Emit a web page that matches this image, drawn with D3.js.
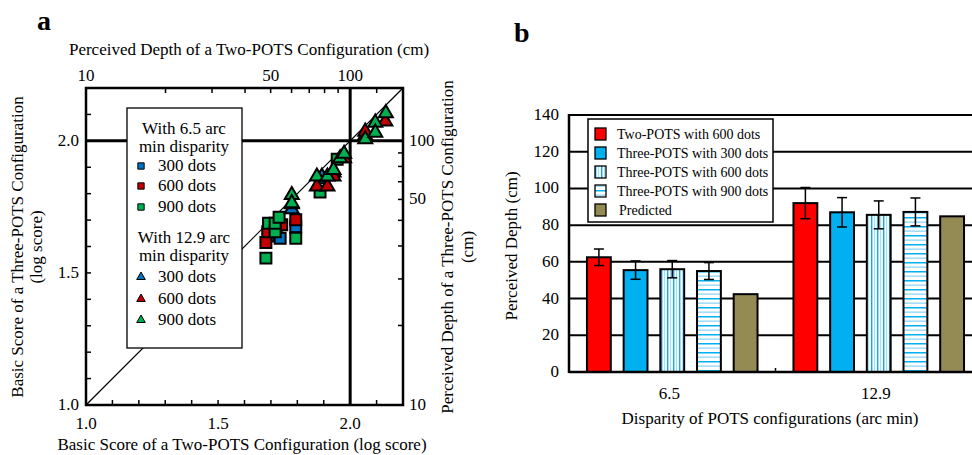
<!DOCTYPE html>
<html>
<head>
<meta charset="utf-8">
<script src="https://cdn.jsdelivr.net/npm/d3@7"></script>
<style>
  body { margin: 0; background: #fff; }
</style>
</head>
<body>
<div id="chart"></div>
<script>
// ---- panel a data (log scores) ----
const sq300 = [[1.69, 1.64], [1.72, 1.66], [1.735, 1.631], [1.794, 1.675], [1.89, 1.86]];
const sq600 = [[1.681, 1.615], [1.688, 1.656], [1.741, 1.682], [1.794, 1.701]];
const sq900 = [[1.681, 1.556], [1.691, 1.688], [1.716, 1.656], [1.716, 1.688], [1.731, 1.711], [1.794, 1.631], [1.886, 1.806], [1.951, 1.93]];
const tri300 = [[1.779, 1.741], [1.893, 1.865], [1.937, 1.88], [2.057, 2.02]];
const tri600 = [[1.779, 1.76], [1.874, 1.827], [1.914, 1.827], [1.937, 1.865], [1.977, 1.934], [2.057, 2.035], [2.133, 2.073]];
const tri900 = [[1.779, 1.795], [1.779, 1.764], [1.874, 1.865], [1.914, 1.865], [1.937, 1.89], [1.962, 1.934], [1.977, 1.951], [2.057, 2.006], [2.095, 2.069], [2.095, 2.031], [2.135, 2.105]];

const scoreTicks = [1.1, 1.2, 1.3, 1.4, 1.6, 1.7, 1.8, 1.9, 2.1];
const scoreLabels = [1.0, 1.5, 2.0];
const topDepthTicks = [20, 30, 40, 50, 60, 70, 80, 90, 126];
const topDepthLabels = [10, 50, 100];
const rightDepthTicks = [20, 30, 40, 50, 60, 70, 80, 90];
// the original prints "50" beside the 60 tick on the right axis
const rightLabelAt = [10, 60, 100];
const rightLabelText = ["10", "50", "100"];

// ---- panel b data ----
const disparities = ["6.5", "12.9"];
const seriesNames = ["Two-POTS with 600 dots", "Three-POTS with 300 dots", "Three-POTS with 600 dots", "Three-POTS with 900 dots", "Predicted"];
const depth65 = [62.5, 55.5, 56, 55, 42.4];
const err65 = [4.5, 5, 4.7, 4.6, null];
const depth129 = [92, 87, 85.6, 87.2, 84.8];
const err129 = [8.5, 8, 7.6, 7.6, null];
const depthTicksB = [0, 20, 40, 60, 80, 100, 120, 140];

const cBlue = "#0070c0", cRed = "#c00000", cGreen = "#00b050";
const serif = "Liberation Serif, Times New Roman, DejaVu Serif, serif";
const fs = "17px";

const svg = d3.select("#chart").append("svg")
    .attr("width", 972)
    .attr("height", 455)
    .attr("font-family", serif);

const defs = svg.append("defs");
const vp = defs.append("pattern").attr("id", "vstripe")
    .attr("patternUnits", "userSpaceOnUse").attr("width", 6).attr("height", 6);
vp.append("rect").attr("width", 6).attr("height", 6).attr("fill", "#fff");
vp.append("rect").attr("x", 1).attr("width", 1.4).attr("height", 6).attr("fill", "#00b0f0");
vp.append("rect").attr("x", 4).attr("width", 1).attr("height", 6).attr("fill", "#a6dff7");
const hp = defs.append("pattern").attr("id", "hstripe")
    .attr("patternUnits", "userSpaceOnUse").attr("width", 6).attr("height", 9);
hp.append("rect").attr("width", 6).attr("height", 9).attr("fill", "#fff");
hp.append("rect").attr("y", 1).attr("width", 6).attr("height", 1.5).attr("fill", "#00b0f0");
hp.append("rect").attr("y", 5.5).attr("width", 6).attr("height", 1.3).attr("fill", "#8fd6f5");

// =================== panel a ===================
const ax = {left: 86, right: 403, top: 88, bottom: 405};
const x = d3.scaleLinear().domain([1, 2.2]).range([ax.left, ax.right]);
const y = d3.scaleLinear().domain([1, 2.2]).range([ax.bottom, ax.top]);
const xTop = d3.scaleLog().domain([10, Math.pow(10, 2.2)]).range([ax.left, ax.right]);
const yRight = d3.scaleLog().domain([10, Math.pow(10, 2.2)]).range([ax.bottom, ax.top]);

const ga = svg.append("g");

ga.append("text").attr("x", 37).attr("y", 30).text("a")
    .style("font-size", "28px").style("font-weight", "bold");

// diagonal
ga.append("line")
    .attr("x1", x(1)).attr("y1", y(1)).attr("x2", x(2.2)).attr("y2", y(2.2))
    .attr("stroke", "#000").attr("stroke-width", 1.2);

// thick reference lines at 2.0
ga.append("line").attr("x1", x(2)).attr("x2", x(2)).attr("y1", ax.top).attr("y2", ax.bottom)
    .attr("stroke", "#000").attr("stroke-width", 3);
ga.append("line").attr("x1", ax.left).attr("x2", ax.right).attr("y1", y(2)).attr("y2", y(2))
    .attr("stroke", "#000").attr("stroke-width", 3);

// ticks (inward)
const tk = 5;
ga.selectAll(".tb").data(scoreTicks.concat(scoreLabels.slice(1))).enter().append("line")
    .attr("x1", d => x(d)).attr("x2", d => x(d)).attr("y1", ax.bottom).attr("y2", ax.bottom - tk)
    .attr("stroke", "#000").attr("stroke-width", 1.5);
ga.selectAll(".tl").data(scoreTicks.concat(scoreLabels.slice(1))).enter().append("line")
    .attr("y1", d => y(d)).attr("y2", d => y(d)).attr("x1", ax.left).attr("x2", ax.left + tk)
    .attr("stroke", "#000").attr("stroke-width", 1.5);
ga.selectAll(".tt").data(topDepthTicks).enter().append("line")
    .attr("x1", d => xTop(d)).attr("x2", d => xTop(d)).attr("y1", ax.top).attr("y2", ax.top + tk)
    .attr("stroke", "#000").attr("stroke-width", 1.5);
ga.selectAll(".tr").data(rightDepthTicks).enter().append("line")
    .attr("y1", d => yRight(d)).attr("y2", d => yRight(d)).attr("x1", ax.right).attr("x2", ax.right - tk)
    .attr("stroke", "#000").attr("stroke-width", 1.5);

// tick labels
ga.selectAll(".lb").data(scoreLabels).enter().append("text")
    .attr("x", d => x(d)).attr("y", 429).attr("text-anchor", "middle")
    .text(d => d.toFixed(1)).style("font-size", fs);
ga.selectAll(".ll").data(scoreLabels).enter().append("text")
    .attr("x", 79).attr("y", d => y(d) + 5).attr("text-anchor", "end")
    .text(d => d.toFixed(1)).style("font-size", fs);
ga.selectAll(".lt").data(topDepthLabels).enter().append("text")
    .attr("x", d => xTop(d)).attr("y", 81).attr("text-anchor", "middle")
    .text(d => d).style("font-size", fs);
ga.selectAll(".lr").data(rightLabelAt).enter().append("text")
    .attr("x", 409).attr("y", d => yRight(d) + 5)
    .text((d, i) => rightLabelText[i]).style("font-size", fs);

// axis titles
ga.append("text").attr("x", 249).attr("y", 55).attr("text-anchor", "middle")
    .text("Perceived Depth of a Two-POTS Configuration (cm)").style("font-size", fs);
ga.append("text").attr("x", 242).attr("y", 450).attr("text-anchor", "middle")
    .text("Basic Score of a Two-POTS Configuration (log score)").style("font-size", fs);
ga.append("text").attr("transform", "translate(23,247) rotate(-90)").attr("text-anchor", "middle")
    .text("Basic Score of a Three-POTS Configuration").style("font-size", fs);
ga.append("text").attr("transform", "translate(42,247) rotate(-90)").attr("text-anchor", "middle")
    .text("(log score)").style("font-size", fs);
ga.append("text").attr("transform", "translate(453,247) rotate(-90)").attr("text-anchor", "middle")
    .text("Perceived Depth of a Three-POTS Configuration").style("font-size", fs);
ga.append("text").attr("transform", "translate(473,247) rotate(-90)").attr("text-anchor", "middle")
    .text("(cm)").style("font-size", fs);

// legend box (drawn before markers, markers sit on top of it)
const lg = ga.append("g");
lg.append("rect").attr("x", 127).attr("y", 108).attr("width", 115).attr("height", 240)
    .attr("fill", "#fff").attr("stroke", "#000").attr("stroke-width", 1.3);

// markers
const sqSym = d3.symbol(d3.symbolSquare, 120);
const triSym = d3.symbol(d3.symbolTriangle, 85);
const groups = [
  {pts: sq300, sym: sqSym, col: cBlue},
  {pts: sq600, sym: sqSym, col: cRed},
  {pts: sq900, sym: sqSym, col: cGreen},
  {pts: tri300, sym: triSym, col: cBlue},
  {pts: tri600, sym: triSym, col: cRed},
  {pts: tri900, sym: triSym, col: cGreen}
];
groups.forEach(g => {
  ga.append("g").selectAll("path").data(g.pts).enter().append("path")
      .attr("d", g.sym)
      .attr("transform", d => "translate(" + x(d[0]) + "," + y(d[1]) + ")")
      .attr("fill", g.col).attr("stroke", "#000").attr("stroke-width", 2)
      .attr("stroke-linejoin", "miter");
});

// frame
ga.append("rect").attr("x", ax.left).attr("y", ax.top)
    .attr("width", ax.right - ax.left).attr("height", ax.bottom - ax.top)
    .attr("fill", "none").attr("stroke", "#000").attr("stroke-width", 2.5);

// legend contents
const legLines = [
  {t: "With 6.5 arc", y: 134}, {t: "min disparity", y: 152},
  {t: "With 12.9 arc", y: 243}, {t: "min disparity", y: 261}
];
lg.raise();
lg.selectAll(".lh").data(legLines).enter().append("text")
    .attr("x", 184).attr("y", d => d.y).attr("text-anchor", "middle")
    .text(d => d.t).style("font-size", fs);
const legItems = [
  {t: "300 dots", col: cBlue, sym: "sq", y: 166},
  {t: "600 dots", col: cRed, sym: "sq", y: 186},
  {t: "900 dots", col: cGreen, sym: "sq", y: 207},
  {t: "300 dots", col: cBlue, sym: "tri", y: 277},
  {t: "600 dots", col: cRed, sym: "tri", y: 299},
  {t: "900 dots", col: cGreen, sym: "tri", y: 320}
];
lg.selectAll(".lm").data(legItems).enter().append("path")
    .attr("d", d => d.sym === "sq" ? d3.symbol(d3.symbolSquare, 40)() : d3.symbol(d3.symbolTriangle, 32)())
    .attr("transform", d => "translate(141," + d.y + ")")
    .attr("fill", d => d.col).attr("stroke", "#000").attr("stroke-width", 1);
lg.selectAll(".lt").data(legItems).enter().append("text")
    .attr("x", 158).attr("y", d => d.y + 5)
    .text(d => d.t).style("font-size", fs);

// =================== panel b ===================
const bx = {left: 569, right: 982, top: 115, bottom: 372};
const yb = d3.scaleLinear().domain([0, 140]).range([bx.bottom, bx.top]);
const xb = d3.scaleBand().domain(disparities).range([bx.left, bx.right]);
const xs = d3.scaleBand().domain(seriesNames).range([0, xb.bandwidth()])
    .paddingInner(0.35).paddingOuter(0.49);
const fills = ["#ff0000", "#00b0f0", "url(#vstripe)", "url(#hstripe)", "#948a54"];

const gb = svg.append("g");
gb.append("text").attr("x", 514).attr("y", 42).text("b")
    .style("font-size", "28px").style("font-weight", "bold");

// gridlines
gb.selectAll(".grid").data(depthTicksB.slice(1)).enter().append("line")
    .attr("x1", bx.left).attr("x2", bx.right).attr("y1", d => yb(d)).attr("y2", d => yb(d))
    .attr("stroke", "#000").attr("stroke-width", 2);
gb.selectAll(".yl").data(depthTicksB).enter().append("text")
    .attr("x", 559).attr("y", d => yb(d) + 5).attr("text-anchor", "end")
    .text(d => d).style("font-size", fs);

const barData = [];
disparities.forEach((dsp, gi) => {
  const vals = gi === 0 ? depth65 : depth129;
  const errs = gi === 0 ? err65 : err129;
  seriesNames.forEach((s, si) => {
    barData.push({dsp: dsp, s: s, i: si, v: vals[si], e: errs[si]});
  });
});

gb.selectAll(".bar").data(barData).enter().append("rect")
    .attr("x", d => xb(d.dsp) + xs(d.s))
    .attr("y", d => yb(d.v))
    .attr("width", xs.bandwidth())
    .attr("height", d => yb(0) - yb(d.v))
    .attr("fill", d => fills[d.i])
    .attr("stroke", "#000").attr("stroke-width", 2);

// error bars
const errData = barData.filter(d => d.e != null);
const cx = d => xb(d.dsp) + xs(d.s) + xs.bandwidth() / 2;
gb.selectAll(".ev").data(errData).enter().append("line")
    .attr("x1", cx).attr("x2", cx)
    .attr("y1", d => yb(d.v - d.e)).attr("y2", d => yb(d.v + d.e))
    .attr("stroke", "#000").attr("stroke-width", 1.5);
[1, -1].forEach(sg => {
  gb.selectAll(".ec").data(errData).enter().append("line")
      .attr("x1", d => cx(d) - 5).attr("x2", d => cx(d) + 5)
      .attr("y1", d => yb(d.v + sg * d.e)).attr("y2", d => yb(d.v + sg * d.e))
      .attr("stroke", "#000").attr("stroke-width", 1.5);
});

// axes lines
gb.append("line").attr("x1", bx.left).attr("x2", bx.right).attr("y1", yb(0)).attr("y2", yb(0))
    .attr("stroke", "#000").attr("stroke-width", 2.5);
gb.append("line").attr("x1", bx.left).attr("x2", bx.left).attr("y1", yb(140) - 1).attr("y2", yb(0) + 1)
    .attr("stroke", "#000").attr("stroke-width", 2.5);
gb.append("line").attr("x1", xb(disparities[1])).attr("x2", xb(disparities[1]))
    .attr("y1", yb(0)).attr("y2", yb(0) - 4).attr("stroke", "#000").attr("stroke-width", 1.5);

gb.selectAll(".xl").data(disparities).enter().append("text")
    .attr("x", d => xb(d) + xb.bandwidth() / 2 - 3).attr("y", 399).attr("text-anchor", "middle")
    .text(d => d).style("font-size", fs);
gb.append("text").attr("x", 770).attr("y", 424).attr("text-anchor", "middle")
    .text("Disparity of POTS configurations (arc min)").style("font-size", fs);
gb.append("text").attr("transform", "translate(517,246) rotate(-90)").attr("text-anchor", "middle")
    .text("Perceived Depth (cm)").style("font-size", fs);

// legend b
const lb = gb.append("g");
lb.append("rect").attr("x", 588).attr("y", 119).attr("width", 185).attr("height", 103)
    .attr("fill", "#fff").attr("stroke", "#000").attr("stroke-width", 1.5);
const legY = d3.scalePoint().domain(seriesNames).range([134, 210]);
lb.selectAll(".sw").data(seriesNames).enter().append("rect")
    .attr("x", 595).attr("y", d => legY(d) - 6).attr("width", 11).attr("height", 12)
    .attr("fill", (d, i) => fills[i]).attr("stroke", "#000").attr("stroke-width", 1.3);
lb.selectAll(".st").data(seriesNames).enter().append("text")
    .attr("x", (d, i) => i === 4 ? 619 : 617).attr("y", d => legY(d) + 5)
    .text(d => d).style("font-size", "14px");
</script>
</body>
</html>
